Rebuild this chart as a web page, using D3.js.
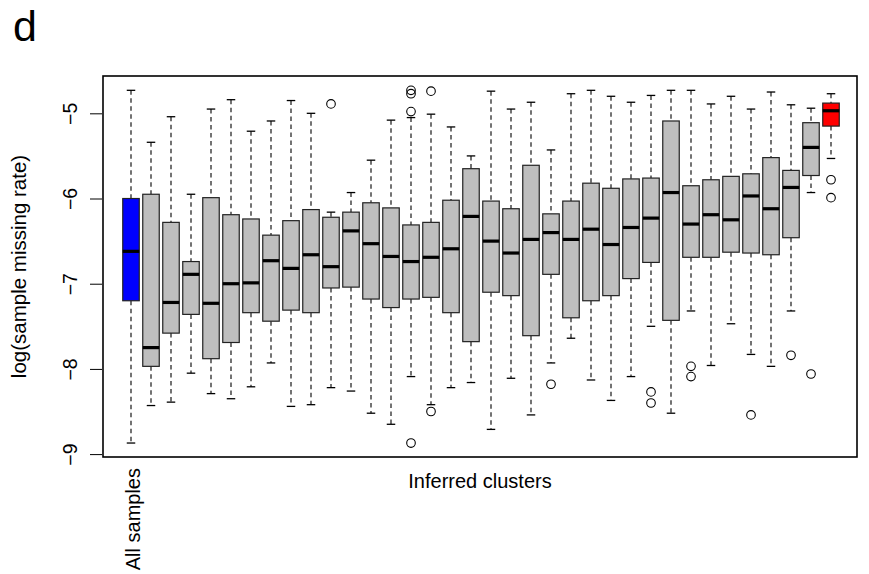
<!DOCTYPE html>
<html>
<head>
<meta charset="utf-8">
<script src="https://cdn.jsdelivr.net/npm/d3@7"></script>
<style>
  html, body { margin: 0; padding: 0; background: #ffffff; }
  svg { display: block; }
  text { font-family: "Liberation Sans", Arial, Helvetica, sans-serif; fill: #000; }
</style>
</head>
<body>
<svg id="chart" width="869" height="574"></svg>
<script>
// ---- data ----
const categories = ["All samples",
  "c1","c2","c3","c4","c5","c6","c7","c8","c9","c10",
  "c11","c12","c13","c14","c15","c16","c17","c18","c19","c20",
  "c21","c22","c23","c24","c25","c26","c27","c28","c29","c30",
  "c31","c32","c33","c34","c35"];
const shownLabels = ["All samples"];
const whiskerHigh = [-4.73,-5.34,-5.04,-5.95,-4.95,-4.84,-5.21,-5.09,-4.85,-5.00,
  -6.16,-5.93,-5.55,-5.08,-5.05,-5.01,-5.16,-5.50,-4.74,-4.95,
  -4.87,-5.43,-4.77,-4.73,-4.80,-4.87,-4.79,-4.73,-4.73,-4.89,
  -4.80,-4.95,-4.75,-4.90,-4.94,-4.77];
const upperQuartile = [-6.00,-5.95,-6.28,-6.74,-5.99,-6.19,-6.24,-6.43,-6.26,-6.13,
  -6.22,-6.16,-6.05,-6.11,-6.31,-6.28,-6.02,-5.65,-6.03,-6.12,
  -5.61,-6.18,-6.03,-5.82,-5.88,-5.77,-5.76,-5.09,-5.85,-5.78,
  -5.74,-5.71,-5.52,-5.67,-5.11,-4.88];
const medians = [-6.62,-7.75,-7.22,-6.89,-7.23,-7.00,-6.99,-6.73,-6.82,-6.66,
  -6.80,-6.38,-6.53,-6.68,-6.74,-6.69,-6.59,-6.21,-6.50,-6.64,
  -6.48,-6.40,-6.48,-6.36,-6.54,-6.34,-6.23,-5.93,-6.30,-6.19,
  -6.25,-5.97,-6.12,-5.87,-5.40,-4.97];
const lowerQuartile = [-7.20,-7.97,-7.58,-7.36,-7.88,-7.69,-7.34,-7.44,-7.31,-7.34,
  -7.05,-7.04,-7.18,-7.28,-7.18,-7.16,-7.34,-7.68,-7.10,-7.14,
  -7.61,-6.89,-7.40,-7.20,-7.14,-6.94,-6.75,-7.43,-6.69,-6.69,
  -6.63,-6.64,-6.66,-6.46,-5.73,-5.15];
const whiskerLow = [-8.87,-8.43,-8.39,-8.05,-8.29,-8.35,-8.21,-7.93,-8.44,-8.42,
  -8.22,-8.26,-8.52,-8.65,-8.09,-8.42,-8.22,-8.16,-8.71,-8.11,
  -8.54,-7.93,-7.64,-8.13,-8.37,-8.09,-7.50,-8.52,-7.32,-7.96,
  -7.47,-7.83,-7.97,-7.32,-5.93,-5.53];
// outliers: [box index, value]
const outlierIndex = [10, 14, 14, 14, 14, 15, 15, 21, 26, 26, 28, 28, 31, 33, 34, 35, 35];
const outlierValue = [-4.89, -4.73, -4.77, -4.98, -8.87, -4.74, -8.50, -8.18, -8.27, -8.40,
  -7.97, -8.09, -8.54, -7.84, -8.06, -5.78, -5.99];
const yTicks = [-9, -8, -7, -6, -5];
const panelLetter = "d";
const xTitle = "Inferred clusters";
const yTitle = "log(sample missing rate)";

// ---- drawing ----
const svg = d3.select("#chart");
const plot = { left: 103, right: 857, top: 76, bottom: 457 };

const x = d3.scaleLinear().domain([-1.4, 36.3]).range([plot.left, plot.right]);
const y = d3.scaleLinear().domain([-9.034, -4.562]).range([plot.bottom, plot.top]);

const boxW = 16.5, stapleW = 8.5;
const fillFor = i => i === 0 ? "#0000ff" : (i === categories.length - 1 ? "#ff0000" : "#bebebe");

const boxes = categories.map((c, i) => ({
  i, c, hi: whiskerHigh[i], q3: upperQuartile[i], med: medians[i], q1: lowerQuartile[i], lo: whiskerLow[i]
}));

const g = svg.append("g");
const bg = g.selectAll("g.box").data(boxes).join("g").attr("class", "box");

// whiskers (dashed)
bg.append("line")
  .attr("x1", d => x(d.i)).attr("x2", d => x(d.i))
  .attr("y1", d => y(d.hi)).attr("y2", d => y(d.q3))
  .attr("stroke", "#000").attr("stroke-width", 1.1).attr("stroke-dasharray", "4.5,3.5");
bg.append("line")
  .attr("x1", d => x(d.i)).attr("x2", d => x(d.i))
  .attr("y1", d => y(d.q1)).attr("y2", d => y(d.lo))
  .attr("stroke", "#000").attr("stroke-width", 1.1).attr("stroke-dasharray", "4.5,3.5");
// staples
bg.append("line")
  .attr("x1", d => x(d.i) - stapleW / 2).attr("x2", d => x(d.i) + stapleW / 2)
  .attr("y1", d => y(d.hi)).attr("y2", d => y(d.hi))
  .attr("stroke", "#000").attr("stroke-width", 1.3);
bg.append("line")
  .attr("x1", d => x(d.i) - stapleW / 2).attr("x2", d => x(d.i) + stapleW / 2)
  .attr("y1", d => y(d.lo)).attr("y2", d => y(d.lo))
  .attr("stroke", "#000").attr("stroke-width", 1.3);
// boxes
bg.append("rect")
  .attr("x", d => x(d.i) - boxW / 2).attr("width", boxW)
  .attr("y", d => y(d.q3)).attr("height", d => y(d.q1) - y(d.q3))
  .attr("fill", d => fillFor(d.i)).attr("stroke", "#222").attr("stroke-width", 1.2);
// medians
bg.append("line")
  .attr("x1", d => x(d.i) - boxW / 2).attr("x2", d => x(d.i) + boxW / 2)
  .attr("y1", d => y(d.med)).attr("y2", d => y(d.med))
  .attr("stroke", "#000").attr("stroke-width", 3.2);

// outliers
g.selectAll("circle.out").data(outlierIndex.map((idx, k) => ({ idx, v: outlierValue[k] })))
  .join("circle").attr("class", "out")
  .attr("cx", d => x(d.idx)).attr("cy", d => y(d.v)).attr("r", 4.3)
  .attr("fill", "none").attr("stroke", "#000").attr("stroke-width", 1.1);

// frame
svg.append("rect")
  .attr("x", plot.left).attr("y", plot.top)
  .attr("width", plot.right - plot.left).attr("height", plot.bottom - plot.top)
  .attr("fill", "none").attr("stroke", "#000").attr("stroke-width", 1.6);

// y axis
const yAxis = d3.axisLeft(y).tickValues(yTicks).tickSize(12).tickPadding(0)
  .tickFormat(d => String(d).replace("-", "\u2212"));
const ya = svg.append("g").attr("transform", `translate(${plot.left - 1},0)`).call(yAxis);
ya.select(".domain").remove();
ya.selectAll(".tick line").attr("stroke", "#000").attr("stroke-width", 1);
ya.selectAll(".tick text")
  .attr("font-size", 19.5)
  .attr("font-family", "Liberation Sans, Arial, sans-serif")
  .attr("text-anchor", "middle")
  .attr("x", 0).attr("y", 0).attr("dy", 0)
  .attr("transform", "translate(-25,0) rotate(-90)");

// x category label(s)
const xa = d3.axisBottom(x).tickValues(categories.map((c, i) => i).filter(i => shownLabels.includes(categories[i])))
  .tickSize(0).tickFormat(i => categories[i]);
const xag = svg.append("g").attr("transform", `translate(0,${plot.bottom})`).call(xa);
xag.select(".domain").remove();
xag.selectAll(".tick text")
  .attr("font-size", 20)
  .attr("font-family", "Liberation Sans, Arial, sans-serif")
  .attr("text-anchor", "end")
  .attr("x", 0).attr("y", 0).attr("dy", 0)
  .attr("transform", "translate(8,11) rotate(-90)");

// titles
svg.append("text").attr("x", (plot.left + plot.right) / 2).attr("y", 488)
  .attr("text-anchor", "middle").attr("font-size", 20).text(xTitle);
svg.append("text").attr("transform", `translate(26,${(plot.top + plot.bottom) / 2}) rotate(-90)`)
  .attr("text-anchor", "middle").attr("font-size", 20.5).text(yTitle);
svg.append("text").attr("x", 13).attr("y", 41).attr("font-size", 43).text(panelLetter);
</script>
</body>
</html>
